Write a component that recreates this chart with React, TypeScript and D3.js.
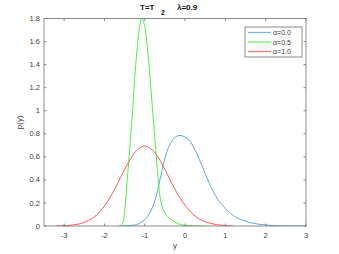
import * as d3 from 'd3';

type Pt = [number, number];

// alpha = 0.0 (blue)
const blueX = [-1.6, -1.4, -1.2, -1.1, -1.0, -0.9, -0.8, -0.7, -0.6, -0.5, -0.4, -0.3, -0.2, -0.1, 0, 0.1, 0.2, 0.3, 0.4, 0.5, 0.6, 0.7, 0.8, 0.9, 1.0, 1.1, 1.2, 1.4, 1.6, 1.8, 2.0, 2.2, 2.5, 3.0];
const blueY = [0, 0.004, 0.012, 0.03, 0.055, 0.1, 0.17, 0.28, 0.44, 0.59, 0.69, 0.75, 0.78, 0.785, 0.77, 0.745, 0.69, 0.62, 0.54, 0.455, 0.37, 0.3, 0.235, 0.19, 0.15, 0.117, 0.09, 0.053, 0.031, 0.017, 0.009, 0.004, 0.001, 0];

// alpha = 0.5 (green)
const greenX = [-1.65, -1.6, -1.55, -1.52, -1.48, -1.44, -1.4, -1.35, -1.3, -1.25, -1.2, -1.15, -1.1, -1.08, -1.05, -1.0, -0.95, -0.9, -0.85, -0.8, -0.75, -0.7, -0.65, -0.6, -0.55, -0.5, -0.45, -0.4, -0.3, -0.2, -0.1, 0, 0.2, 0.5];
const greenY = [0, 0.005, 0.02, 0.06, 0.2, 0.38, 0.55, 0.78, 1.02, 1.28, 1.5, 1.67, 1.78, 1.8, 1.79, 1.73, 1.6, 1.42, 1.2, 0.98, 0.76, 0.54, 0.34, 0.21, 0.15, 0.115, 0.09, 0.07, 0.045, 0.025, 0.012, 0.006, 0.002, 0];

// alpha = 1.0 (red)
const redX = [-3.2, -3.0, -2.8, -2.6, -2.4, -2.2, -2.0, -1.8, -1.6, -1.4, -1.2, -1.0, -0.8, -0.6, -0.4, -0.2, 0, 0.2, 0.4, 0.6, 0.8, 1.0, 1.2];
const redY = [0.001, 0.003, 0.008, 0.02, 0.046, 0.094, 0.173, 0.285, 0.421, 0.556, 0.656, 0.694, 0.656, 0.556, 0.421, 0.285, 0.18, 0.1, 0.052, 0.026, 0.011, 0.004, 0.001];

const xTicks = [-3, -2, -1, 0, 1, 2, 3];
const yTicks = [0, 0.2, 0.4, 0.6, 0.8, 1, 1.2, 1.4, 1.6, 1.8];

const series = [
  { label: 'α=0.0', color: '#5aa8dc', xs: blueX, ys: blueY },
  { label: 'α=0.5', color: '#4cf04c', xs: greenX, ys: greenY },
  { label: 'α=1.0', color: '#ff5555', xs: redX, ys: redY },
];

const W = 339;
const H = 254;
const margin = { left: 44, right: 33, top: 18.5, bottom: 28 };
const font = 'Liberation Sans, Arial, sans-serif';
const axisColor = '#6e6e6e';
const textColor = '#3c3c3c';

export default function App() {
  const x = d3.scaleLinear().domain([-3.5, 3]).range([margin.left, W - margin.right]);
  const y = d3.scaleLinear().domain([0, 1.8]).range([H - margin.bottom, margin.top]);
  const line = d3
    .line<Pt>()
    .x((d) => x(d[0]))
    .y((d) => y(d[1]))
    .curve(d3.curveCatmullRom.alpha(0.5));

  const [x0, x1] = x.range();
  const [y0, y1] = y.range();
  const tick = 2.5;

  return (
    <svg
      width={W}
      height={H}
      style={{ position: 'absolute', left: 0, top: 0, background: '#fff' }}
      fontFamily={font}
    >
      <defs>
        <clipPath id="plot-clip">
          <rect x={x0} y={y1} width={x1 - x0} height={y0 - y1} />
        </clipPath>
      </defs>

      <g clipPath="url(#plot-clip)">
        {series.map((s) => (
          <path
            key={s.label}
            d={line(s.xs.map((v, i) => [v, s.ys[i]] as Pt)) ?? ''}
            fill="none"
            stroke={s.color}
            strokeWidth={1}
          />
        ))}
      </g>

      {/* axes box with ticks on all sides */}
      <rect x={x0} y={y1} width={x1 - x0} height={y0 - y1} fill="none" stroke={axisColor} strokeWidth={0.8} />
      {xTicks.map((t) => (
        <g key={`xt${t}`}>
          <line x1={x(t)} x2={x(t)} y1={y0} y2={y0 - tick} stroke={axisColor} strokeWidth={0.8} />
          <line x1={x(t)} x2={x(t)} y1={y1} y2={y1 + tick} stroke={axisColor} strokeWidth={0.8} />
          <text x={x(t)} y={y0 + 12} fontSize={7.5} textAnchor="middle" fill={textColor}>
            {t}
          </text>
        </g>
      ))}
      {yTicks.map((t) => (
        <g key={`yt${t}`}>
          <line x1={x0} x2={x0 + tick} y1={y(t)} y2={y(t)} stroke={axisColor} strokeWidth={0.8} />
          <line x1={x1} x2={x1 - tick} y1={y(t)} y2={y(t)} stroke={axisColor} strokeWidth={0.8} />
          <text x={x0 - 4} y={y(t) + 2.6} fontSize={7.5} textAnchor="end" fill={textColor}>
            {t}
          </text>
        </g>
      ))}

      <text x={(x0 + x1) / 2} y={y0 + 22} fontSize={8} textAnchor="middle" fill={textColor}>
        y
      </text>
      <text
        transform={`translate(${x0 - 22},${(y0 + y1) / 2}) rotate(-90)`}
        fontSize={8}
        textAnchor="middle"
        fill={textColor}
      >
        p(y)
      </text>

      <text x={140} y={10} fontSize={8} fontWeight="bold" fill="#111">
        T=T
      </text>
      <text x={161} y={15} fontSize={7} fontWeight="bold" fill="#111">
        2
      </text>
      <text x={177} y={10} fontSize={8} fontWeight="bold" fill="#111">
        λ=0.9
      </text>

      {/* legend */}
      <rect x={245} y={27} width={57} height={30} fill="#fff" stroke={axisColor} strokeWidth={0.8} />
      {series.map((s, i) => (
        <g key={`lg${s.label}`}>
          <line
            x1={248}
            x2={271}
            y1={32.5 + i * 9.5}
            y2={32.5 + i * 9.5}
            stroke={s.color}
            strokeWidth={1.3}
            strokeOpacity={0.8}
          />
          <text x={273} y={35 + i * 9.5} fontSize={7} fill={textColor}>
            {s.label}
          </text>
        </g>
      ))}
    </svg>
  );
}
